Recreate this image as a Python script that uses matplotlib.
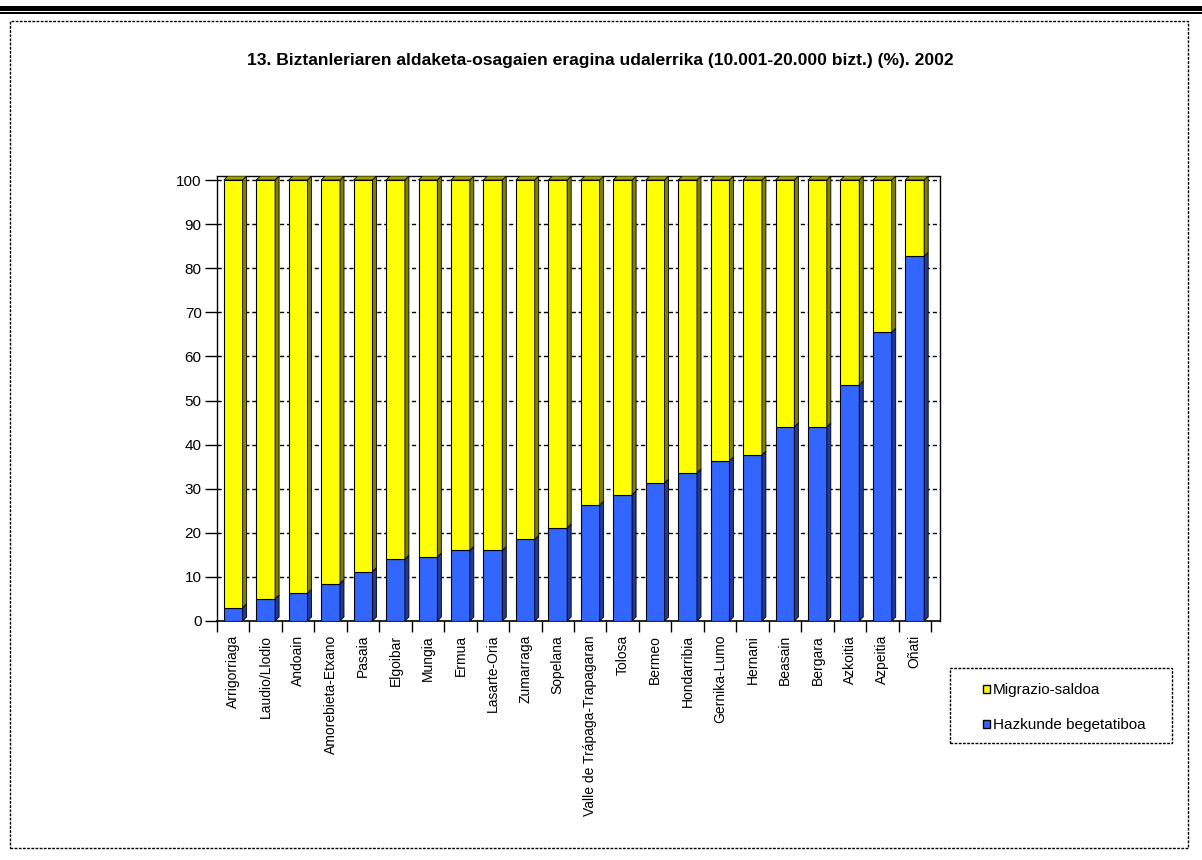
import matplotlib
matplotlib.use("Agg")
import matplotlib.pyplot as plt
from matplotlib.patches import Polygon, Rectangle

plt.rcParams['font.family'] = ['Liberation Sans', 'DejaVu Sans']

title = "13. Biztanleriaren aldaketa-osagaien eragina udalerrika (10.001-20.000 bizt.) (%). 2002"
municipalities = ["Arrigorriaga", "Laudio/Llodio", "Andoain", "Amorebieta-Etxano", "Pasaia",
                  "Elgoibar", "Mungia", "Ermua", "Lasarte-Oria", "Zumarraga", "Sopelana",
                  "Valle de Trápaga-Trapagaran", "Tolosa", "Bermeo", "Hondarribia",
                  "Gernika-Lumo", "Hernani", "Beasain", "Bergara", "Azkoitia", "Azpeitia", "Oñati"]
hazkunde = [3.0, 5.0, 6.3, 8.5, 11.2, 14.0, 14.5, 16.0, 16.0, 18.5, 21.1,
            26.3, 28.6, 31.3, 33.6, 36.3, 37.6, 44.0, 44.0, 53.5, 65.5, 82.7]
migrazio = [97.0, 95.0, 93.7, 91.5, 88.8, 86.0, 85.5, 84.0, 84.0, 81.5, 78.9,
            73.7, 71.4, 68.7, 66.4, 63.7, 62.4, 56.0, 56.0, 46.5, 34.5, 17.3]
series_names = ["Migrazio-saldoa", "Hazkunde begetatiboa"]
yticks = [0, 10, 20, 30, 40, 50, 60, 70, 80, 90, 100]

W, H = 1202, 860
fig = plt.figure(figsize=(W / 100, H / 100), dpi=100)

# top double rule and outer dashed frame
fig.add_artist(Rectangle((0, 1 - 10.5 / H), 1, 4.5 / H, transform=fig.transFigure,
                         facecolor='black', edgecolor='none'))
fig.add_artist(Rectangle((0, 1 - 14 / H), 1, 2 / H, transform=fig.transFigure,
                         facecolor='black', edgecolor='none'))
fig.add_artist(Rectangle((10 / W, 1 - 848 / H), 1178 / W, 827 / H, transform=fig.transFigure,
                         facecolor='none', edgecolor='black', linestyle=(0, (2, 1)), linewidth=1))

fig.text(600 / W, 1 - 60 / H, title, ha='center', va='center', fontsize=12.6, fontweight='bold')

left, right, top, bottom = 217, 940, 176, 621
ax = fig.add_axes([left / W, 1 - bottom / H, (right - left) / W, (bottom - top) / H])

px_per_cat = 32.45
px_per_unit = (621 - 180) / 100.0
dx = 4 / px_per_cat
dy = 4 / px_per_unit
bw = 0.58
n = len(municipalities)
ax.set_xlim(-0.5, n - 0.5 + 9 / px_per_cat)
ax.set_ylim(0, 100 + 4 / px_per_unit)

for yv in yticks[1:]:
    ax.axhline(yv, color='black', linestyle=(0, (3, 2)), linewidth=1, zorder=1)

yellow, yellow_side, yellow_top = '#FFFF00', '#808000', '#A0A000'
blue, blue_side = '#3366FF', '#1F3A99'

xs = list(range(n))
ax.bar(xs, hazkunde, width=bw, color=blue, edgecolor='black', linewidth=0.8, zorder=3)
ax.bar(xs, migrazio, width=bw, bottom=hazkunde, color=yellow, edgecolor='black',
       linewidth=0.8, zorder=3)

for i in xs:
    x1 = i + bw / 2
    x0 = i - bw / 2
    b, m = 0, hazkunde[i]
    t = hazkunde[i] + migrazio[i]
    ax.add_patch(Polygon([(x1, b), (x1 + dx, b + dy), (x1 + dx, m + dy), (x1, m)],
                         closed=True, facecolor=blue_side, edgecolor='black', linewidth=0.6, zorder=3))
    ax.add_patch(Polygon([(x1, m), (x1 + dx, m + dy), (x1 + dx, t + dy), (x1, t)],
                         closed=True, facecolor=yellow_side, edgecolor='black', linewidth=0.6, zorder=3))
    ax.add_patch(Polygon([(x0, t), (x0 + dx, t + dy), (x1 + dx, t + dy), (x1, t)],
                         closed=True, facecolor=yellow_top, edgecolor='black', linewidth=0.6, zorder=3))

ax.set_yticks(yticks)
ax.set_yticklabels([str(v) for v in yticks], fontsize=11)
ax.tick_params(axis='y', length=9, width=1, direction='out', pad=2)

ax.set_xticks(xs)
ax.set_xticklabels(municipalities, rotation=90, fontsize=10, va='top', ha='center')
ax.tick_params(axis='x', which='major', length=0, pad=10)
ax.set_xticks([i - 0.5 for i in range(n + 1)], minor=True)
ax.tick_params(axis='x', which='minor', length=8, width=1, direction='out')

for s in ['top', 'right', 'left']:
    ax.spines[s].set_linestyle((0, (2, 1)))
    ax.spines[s].set_linewidth(1)
ax.spines['bottom'].set_linewidth(1.2)

# legend box (drawn manually to match the reference spacing)
fig.add_artist(Rectangle((950 / W, 1 - 743 / H), 222 / W, 75 / H, transform=fig.transFigure,
                         facecolor='white', edgecolor='black', linestyle=(0, (2, 1)), linewidth=1))
for name, col, yc in zip(series_names, [yellow, blue], [689, 724]):
    fig.add_artist(Rectangle((983 / W, 1 - (yc + 4) / H), 7 / W, 8 / H, transform=fig.transFigure,
                             facecolor=col, edgecolor='black', linewidth=1))
    fig.text(993 / W, 1 - (yc + 1) / H, name, ha='left', va='center', fontsize=11)

fig.savefig('out.png', dpi=100)
